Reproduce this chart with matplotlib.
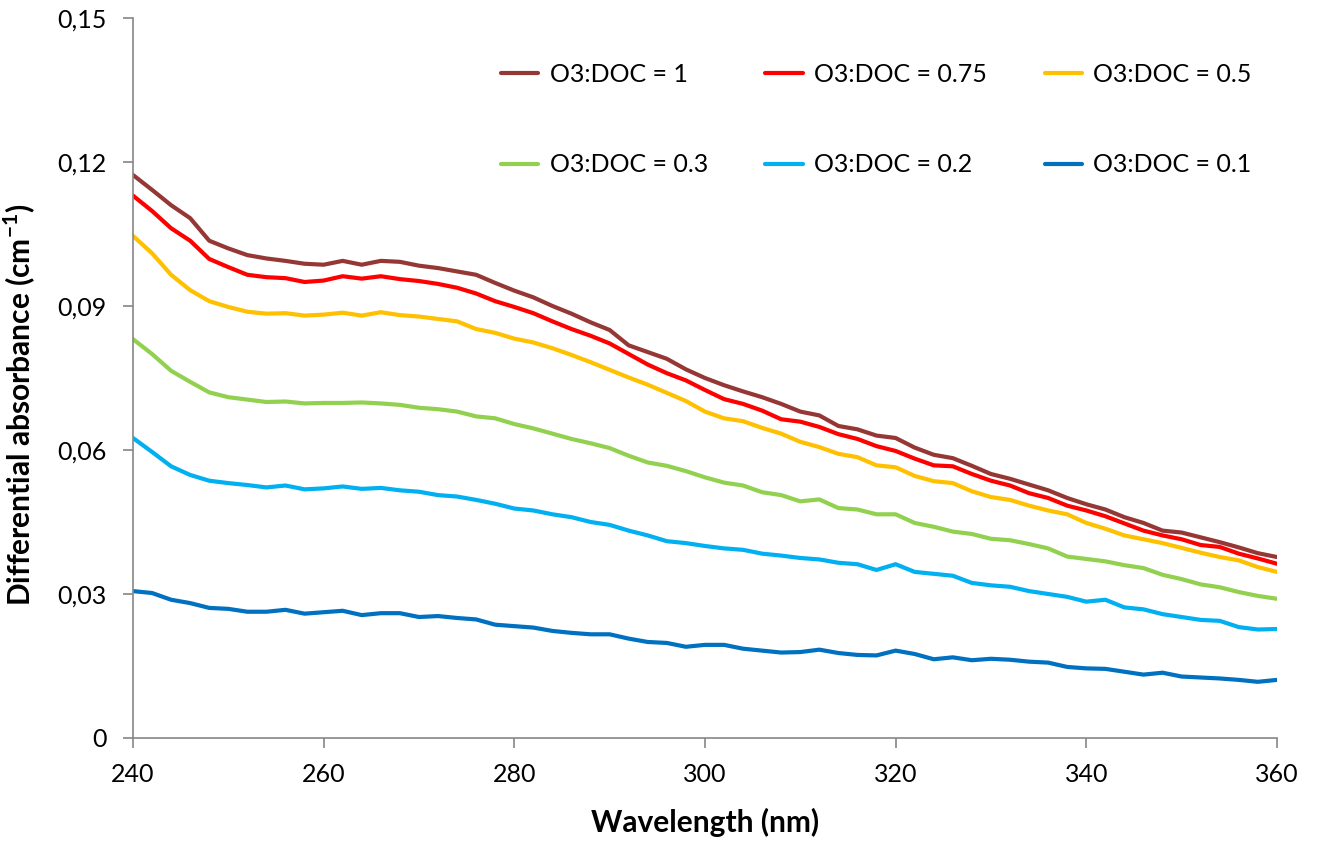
import numpy as np
import matplotlib
matplotlib.use("Agg")
import matplotlib.pyplot as plt
from matplotlib.ticker import FuncFormatter, MultipleLocator

plt.rcParams["font.family"] = ["Lato", "DejaVu Sans"]
plt.rcParams["mathtext.fontset"] = "custom"
plt.rcParams["mathtext.rm"] = "Lato"
plt.rcParams["mathtext.bf"] = "Lato:bold"

# wavelength grid (nm), every 2 nm
wavelength = np.arange(240, 361, 2)

# differential absorbance (cm-1) for each ozone dose
abs_1 = [
    0.1173, 0.1142, 0.1110, 0.1083, 0.1036, 0.1020, 0.1006, 0.0999, 0.0994, 0.0988,
    0.0986, 0.0994, 0.0986, 0.0994, 0.0992, 0.0984, 0.0979, 0.0972, 0.0965, 0.0948,
    0.0932, 0.0918, 0.0900, 0.0884, 0.0866, 0.0850, 0.0818, 0.0804, 0.0790, 0.0768,
    0.0750, 0.0735, 0.0722, 0.0710, 0.0696, 0.0680, 0.0672, 0.0650, 0.0643, 0.0630,
    0.0625, 0.0605, 0.0590, 0.0583, 0.0567, 0.0550, 0.0540, 0.0528, 0.0516, 0.0500,
    0.0487, 0.0476, 0.0460, 0.0448, 0.0432, 0.0428, 0.0418, 0.0408, 0.0397, 0.0385,
    0.0377,
]
abs_075 = [
    0.1130, 0.1098, 0.1062, 0.1036, 0.0998, 0.0981, 0.0965, 0.0960, 0.0958, 0.0950,
    0.0953, 0.0962, 0.0957, 0.0962, 0.0956, 0.0952, 0.0946, 0.0938, 0.0926, 0.0910,
    0.0898, 0.0885, 0.0868, 0.0852, 0.0838, 0.0822, 0.0800, 0.0778, 0.0760, 0.0745,
    0.0725, 0.0706, 0.0696, 0.0682, 0.0664, 0.0659, 0.0648, 0.0633, 0.0623, 0.0608,
    0.0598, 0.0582, 0.0568, 0.0566, 0.0550, 0.0536, 0.0526, 0.0510, 0.0500, 0.0484,
    0.0474, 0.0462, 0.0447, 0.0432, 0.0422, 0.0414, 0.0402, 0.0398, 0.0384, 0.0374,
    0.0363,
]
abs_05 = [
    0.1046, 0.1010, 0.0965, 0.0933, 0.0910, 0.0898, 0.0888, 0.0884, 0.0885, 0.0880,
    0.0882, 0.0886, 0.0880, 0.0887, 0.0881, 0.0878, 0.0873, 0.0868, 0.0852, 0.0844,
    0.0832, 0.0824, 0.0812, 0.0798, 0.0783, 0.0767, 0.0751, 0.0736, 0.0719, 0.0702,
    0.0680, 0.0666, 0.0660, 0.0646, 0.0634, 0.0617, 0.0606, 0.0592, 0.0585, 0.0568,
    0.0564, 0.0546, 0.0535, 0.0531, 0.0514, 0.0502, 0.0496, 0.0484, 0.0474, 0.0466,
    0.0448, 0.0436, 0.0422, 0.0414, 0.0406, 0.0396, 0.0386, 0.0377, 0.0370, 0.0356,
    0.0346,
]
abs_03 = [
    0.0831, 0.0800, 0.0765, 0.0742, 0.0720, 0.0710, 0.0705, 0.0700, 0.0701, 0.0697,
    0.0698, 0.0698, 0.0699, 0.0697, 0.0694, 0.0688, 0.0685, 0.0680, 0.0670, 0.0666,
    0.0654, 0.0645, 0.0634, 0.0623, 0.0614, 0.0604, 0.0588, 0.0574, 0.0567, 0.0556,
    0.0543, 0.0532, 0.0526, 0.0512, 0.0506, 0.0493, 0.0497, 0.0479, 0.0476, 0.0466,
    0.0466, 0.0448, 0.0440, 0.0430, 0.0425, 0.0415, 0.0412, 0.0404, 0.0395, 0.0378,
    0.0373, 0.0368, 0.0360, 0.0354, 0.0340, 0.0331, 0.0320, 0.0314, 0.0304, 0.0296,
    0.0290,
]
abs_02 = [
    0.0625, 0.0596, 0.0566, 0.0548, 0.0536, 0.0531, 0.0527, 0.0522, 0.0526, 0.0518,
    0.0520, 0.0524, 0.0519, 0.0521, 0.0516, 0.0513, 0.0506, 0.0503, 0.0496, 0.0488,
    0.0478, 0.0474, 0.0466, 0.0460, 0.0450, 0.0444, 0.0432, 0.0422, 0.0410, 0.0406,
    0.0400, 0.0395, 0.0392, 0.0384, 0.0380, 0.0375, 0.0372, 0.0365, 0.0362, 0.0350,
    0.0362, 0.0346, 0.0342, 0.0338, 0.0323, 0.0318, 0.0315, 0.0306, 0.0300, 0.0294,
    0.0284, 0.0288, 0.0272, 0.0268, 0.0258, 0.0252, 0.0246, 0.0244, 0.0231, 0.0226,
    0.0227,
]
abs_01 = [
    0.0306, 0.0302, 0.0288, 0.0281, 0.0271, 0.0269, 0.0263, 0.0263, 0.0267, 0.0259,
    0.0262, 0.0265, 0.0256, 0.0260, 0.0260, 0.0252, 0.0254, 0.0250, 0.0247, 0.0236,
    0.0233, 0.0230, 0.0223, 0.0219, 0.0216, 0.0216, 0.0207, 0.0200, 0.0198, 0.0190,
    0.0194, 0.0194, 0.0186, 0.0182, 0.0178, 0.0179, 0.0184, 0.0177, 0.0173, 0.0172,
    0.0182, 0.0175, 0.0164, 0.0168, 0.0162, 0.0165, 0.0163, 0.0159, 0.0157, 0.0148,
    0.0145, 0.0144, 0.0138, 0.0132, 0.0136, 0.0128, 0.0126, 0.0124, 0.0121, 0.0117,
    0.0121,
]

labels = ["O3:DOC = 1", "O3:DOC = 0.75", "O3:DOC = 0.5",
          "O3:DOC = 0.3", "O3:DOC = 0.2", "O3:DOC = 0.1"]
series = [abs_1, abs_075, abs_05, abs_03, abs_02, abs_01]
colors = ["#953735", "#FF0000", "#FFC000", "#92D050", "#00B0F0", "#0070C0"]

fig = plt.figure(figsize=(13.19, 8.41), dpi=100)
ax = fig.add_axes([0.1008, 0.1225, 0.8673, 0.8561])

lines = []
for y, c, lab in zip(series, colors, labels):
    ln, = ax.plot(wavelength, y, color=c, lw=3.0, label=lab, solid_capstyle="round")
    lines.append(ln)

ax.set_xlim(240, 360)
ax.set_ylim(0, 0.15)
ax.xaxis.set_major_locator(MultipleLocator(20))
ax.yaxis.set_major_locator(MultipleLocator(0.03))
ax.yaxis.set_major_formatter(FuncFormatter(
    lambda v, p: "0" if abs(v) < 1e-9 else f"{v:.2f}".replace(".", ",")))

for side in ["top", "right"]:
    ax.spines[side].set_visible(False)
for side in ["left", "bottom"]:
    ax.spines[side].set_color("#868686")
    ax.spines[side].set_linewidth(1.2)
ax.tick_params(axis="both", direction="out", length=7, width=1.2,
               color="#868686", labelsize=18, labelcolor="black")
ax.tick_params(axis="x", pad=11)
ax.tick_params(axis="y", pad=12)

ax.set_xlabel("Wavelength (nm)", fontsize=21.5, fontweight="bold")
ax.set_ylabel(r"Differential absorbance (cm$^{\mathbf{-1}}$)", fontsize=21.5,
              fontweight="bold")
ax.xaxis.set_label_coords(0.5, -0.097)
ax.yaxis.set_label_coords(-0.083, 0.4625)

# two rows of three: matplotlib fills legend columns first
order = [0, 3, 1, 4, 2, 5]
ax.legend([lines[i] for i in order], [labels[i] for i in order],
          ncol=3, frameon=False, fontsize=18,
          loc="upper left", bbox_to_anchor=(0.302, 0.969),
          handlelength=1.5, handletextpad=0.45, columnspacing=2.3,
          labelspacing=2.7)

fig.savefig("out.png", dpi=100)
